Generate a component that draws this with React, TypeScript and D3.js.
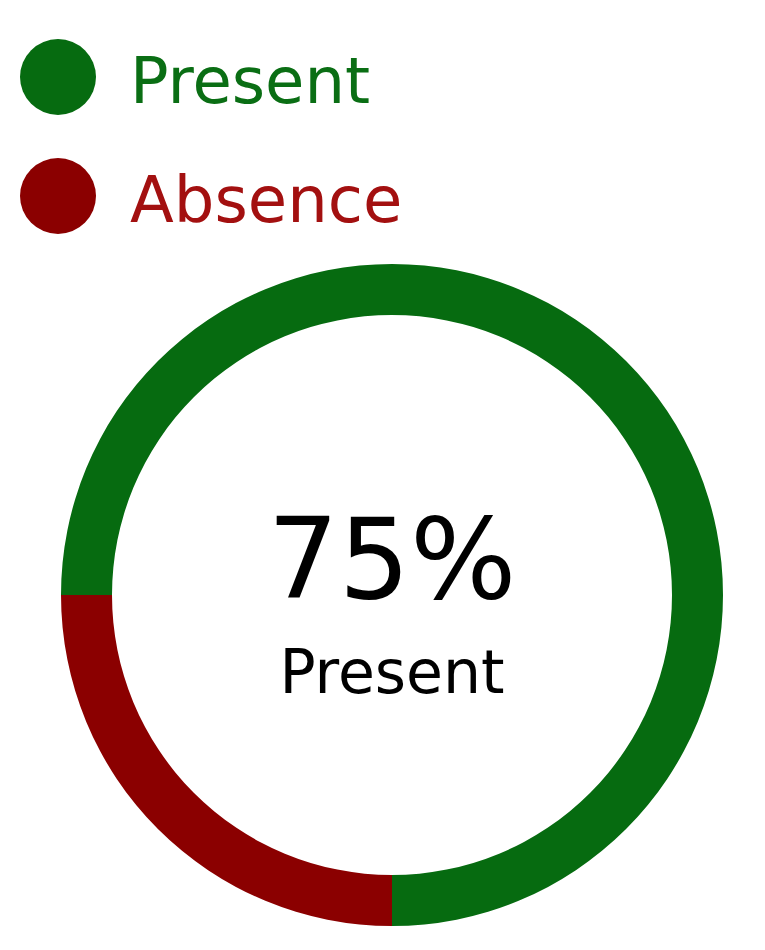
import * as d3 from "d3";

const labels = ["Present", "Absence"];
const values = [75, 25];
const colors = ["#066b10", "#8b0000"];
const textColors = ["#0a6e14", "#a31010"];

export default function App() {
  const width = 765;
  const height = 950;
  const cx = 392;
  const cy = 595;
  const outer = 331;
  const inner = 280;

  const pie = d3
    .pie<number>()
    .sort(null)
    .startAngle(-Math.PI / 2)
    .endAngle((3 * Math.PI) / 2);
  const arcs = pie(values);
  const arc = d3.arc<d3.PieArcDatum<number>>().innerRadius(inner).outerRadius(outer);

  const font = "'DejaVu Sans', 'Noto Sans', sans-serif";

  return (
    <svg
      width={width}
      height={height}
      style={{ position: "absolute", top: 0, left: 0, background: "#fff" }}
    >
      {labels.map((l, i) => (
        <g key={l} transform={`translate(0, ${77 + i * 119})`}>
          <circle cx={58} cy={0} r={38} fill={colors[i]} />
          <text x={130} y={26} fontSize={64} fill={textColors[i]} fontFamily={font}>
            {l}
          </text>
        </g>
      ))}
      <g transform={`translate(${cx},${cy})`}>
        {arcs.map((a, i) => (
          <path key={i} d={arc(a) ?? ""} fill={colors[i]} />
        ))}
        <text y={3} textAnchor="middle" fontSize={112} fontFamily={font} fill="#000">
          {values[0]}%
        </text>
        <text y={98} textAnchor="middle" fontSize={60} fontFamily={font} fill="#000">
          {labels[0]}
        </text>
      </g>
    </svg>
  );
}
